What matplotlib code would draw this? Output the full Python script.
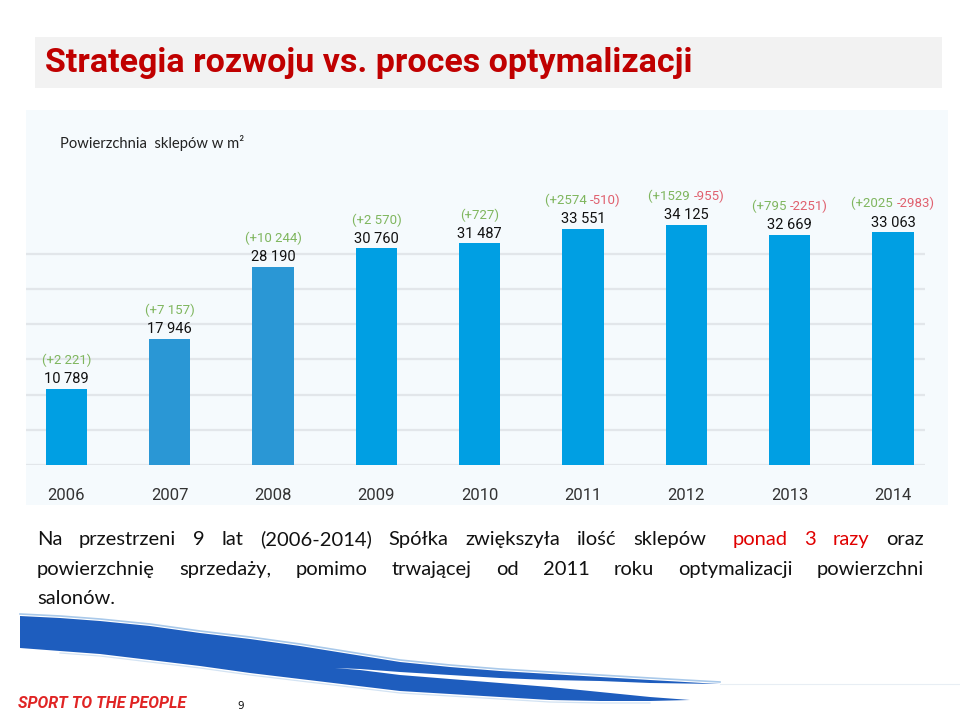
import matplotlib
matplotlib.use("Agg")
import matplotlib.pyplot as plt
from matplotlib import font_manager
from matplotlib.patches import Rectangle, Polygon
from matplotlib.offsetbox import TextArea, HPacker, AnnotationBbox


# -------------------------------------------------------
# DATA
# -------------------------------------------------------

years = ["2006", "2007", "2008", "2009", "2010", "2011", "2012", "2013", "2014"]
area_m2 = [10789, 17946, 28190, 30760, 31487, 33551, 34125, 32669, 33063]
opened = ["+2 221", "+7 157", "+10 244", "+2 570", "+727",
          "+2574", "+1529", "+795", "+2025"]
closed = ["", "", "", "", "", "-510", "-955", "-2251", "-2983"]

grid_levels = [0, 5000, 10000, 15000, 20000, 25000, 30000]

title = "Strategia rozwoju vs. proces optymalizacji"
subtitle = "Powierzchnia  sklepów w m\u00b2"

# body text, (word, red?) per line
body_lines = [
    [("Na", 0), ("przestrzeni", 0), ("9", 0), ("lat", 0), ("(2006-2014)", 0),
     ("Spółka", 0), ("zwiększyła", 0), ("ilość", 0), ("sklepów", 0),
     ("ponad", 1), ("3", 1), ("razy", 1), ("oraz", 0)],
    [("powierzchnię", 0), ("sprzedaży,", 0), ("pomimo", 0), ("trwającej", 0),
     ("od", 0), ("2011", 0), ("roku", 0), ("optymalizacji", 0),
     ("powierzchni", 0)],
    [("salonów.", 0)],
]

BAR_BLUE = "#009FE3"
BAR_MUTED = "#2A97D5"
GREEN = "#7FB65E"
PINK = "#E0606E"
TITLE_RED = "#C00000"


def pick_font(names):
    for n in names:
        try:
            font_manager.findfont(font_manager.FontProperties(family=n),
                                  fallback_to_default=False)
            return n
        except Exception:
            pass
    return "DejaVu Sans"


TITLE_FONT = pick_font(["Liberation Sans Narrow", "Roboto", "Liberation Sans"])
BODY_FONT = pick_font(["Lato", "Open Sans", "Noto Sans"])
CHART_FONT = pick_font(["Roboto", "Noto Sans"])


def fit_width(txt, target_px, renderer):
    w = txt.get_window_extent(renderer).width
    txt.set_fontsize(txt.get_fontsize() * target_px / w)


def justify(bg, renderer, words, y, x0, x1, size, last=False):
    texts = []
    for w, red in words:
        t = bg.text(0, y, w, fontsize=size, family=BODY_FONT,
                    color="#E00000" if red else "#111111", va="baseline")
        texts.append(t)
    widths = [t.get_window_extent(renderer).width for t in texts]
    weights = []
    for k in range(1, len(words)):
        # extra room before the red phrase
        weights.append(1.6 if words[k][1] and not words[k - 1][1] else 1.0)
    if last or len(words) == 1:
        gap = size * 0.3
        weights = [1.0] * len(weights)
    else:
        gap = (x1 - x0 - sum(widths)) / sum(weights)
    x = x0
    for k, t in enumerate(texts):
        t.set_x(x)
        x += widths[k]
        if k < len(weights):
            x += gap * weights[k]


def draw_footer(bg):
    # blue swoosh (decoration, pixel coords)
    top = [(20, 616), (60, 618), (100, 621), (150, 626), (200, 633),
           (250, 639), (300, 646), (350, 654), (400, 662), (450, 667),
           (500, 671), (550, 674), (600, 677), (650, 680), (720, 684)]
    upper_back = [(650, 683), (600, 681), (550, 680), (500, 678), (450, 675),
                  (400, 672), (360, 669), (335, 668)]
    lower_top = [(360, 670), (400, 675), (450, 679), (500, 683), (550, 687),
                 (600, 692), (650, 697), (690, 700)]
    bottom = [(650, 701), (600, 701), (550, 700), (500, 697), (450, 694),
              (400, 691), (350, 685), (300, 679), (250, 673), (200, 666),
              (150, 660), (100, 654), (60, 651), (20, 648)]
    pts = top + upper_back + lower_top + bottom
    bg.add_patch(Polygon(pts, closed=True, facecolor="#1E5DBE",
                         edgecolor="none", zorder=2))
    bg.plot([p[0] for p in top], [p[1] - 2 for p in top], color="#A9C9EA",
            lw=1.2, zorder=1)
    bg.plot([p[0] for p in bottom[:-1]], [p[1] + 2 for p in bottom[:-1]],
            color="#D3E3F3", lw=0.9, zorder=1)
    bg.plot([720, 960], [684, 684], color="#E8EEF4", lw=0.8, zorder=1)
    bg.text(18, 704, "SPORT TO THE PEOPLE", color="#E02424", fontsize=11.5,
            family=TITLE_FONT, fontweight="bold", fontstyle="italic",
            va="center", ha="left")
    bg.text(237, 706, "9", color="#111111", fontsize=7.5, family="DejaVu Sans",
            va="center", ha="left")


def main():
    fig = plt.figure(figsize=(9.6, 7.26), dpi=100)
    fig.patch.set_facecolor("white")

    # background layer in pixel coordinates
    bg = fig.add_axes([0, 0, 1, 1], zorder=0)
    bg.set_xlim(0, 960)
    bg.set_ylim(726, 0)
    bg.axis("off")

    bg.add_patch(Rectangle((35, 37), 907, 51, facecolor="#F2F2F2",
                           edgecolor="none"))
    bg.add_patch(Rectangle((26, 110), 922, 395, facecolor="#F5FAFD",
                           edgecolor="none"))

    renderer = fig.canvas.get_renderer()

    t = bg.text(45, 63, title, color=TITLE_RED, fontsize=26,
                family=TITLE_FONT, fontweight="bold", va="center", ha="left")
    fit_width(t, 648, renderer)

    bg.text(60, 143, subtitle, color="#222222", fontsize=10.6,
            family=BODY_FONT, va="center", ha="left")

    # chart axes: baseline at y=465 px, top at y=110 px
    ax = fig.add_axes([26 / 960, (726 - 465) / 726, 922 / 960, 355 / 726],
                      zorder=1)
    ax.patch.set_alpha(0)
    ax.set_xlim(-0.392, 8.533)
    ax.set_ylim(0, 355 / 0.00704)

    xs = list(range(len(years)))
    ax.hlines(grid_levels, -0.392, 8.31, color="#E2E6EA", lw=1.6, zorder=1)

    colors = [BAR_MUTED if y in ("2007", "2008") else BAR_BLUE for y in years]
    ax.bar(xs, area_m2, width=0.4, color=colors, zorder=2)

    for i, v in enumerate(area_m2):
        ax.annotate(f"{v:,}".replace(",", " "), (i, v), xytext=(0, 7),
                    textcoords="offset points", ha="center", va="center",
                    fontsize=10.5, family=CHART_FONT, color="#111111")
        parts = [TextArea("(" + opened[i] + (" " if closed[i] else ")"),
                          textprops=dict(color=GREEN, fontsize=9.5,
                                         family=CHART_FONT))]
        if closed[i]:
            parts.append(TextArea(closed[i] + ")",
                                  textprops=dict(color=PINK, fontsize=9.5,
                                                 family=CHART_FONT)))
        box = HPacker(children=parts, pad=0, sep=0, align="baseline")
        ab = AnnotationBbox(box, (i, v), xybox=(0, 20.5),
                            boxcoords="offset points", frameon=False,
                            box_alignment=(0.5, 0.5), pad=0)
        ax.add_artist(ab)

    ax.set_xticks(xs)
    ax.set_xticklabels(years, fontsize=12, family=CHART_FONT, color="#333333")
    ax.tick_params(axis="x", length=0, pad=16.5)
    ax.set_yticks([])
    for s in ax.spines.values():
        s.set_visible(False)

    # body text, justified between x=37 and x=924
    baselines = [545, 575, 604]
    for k, words in enumerate(body_lines):
        justify(bg, renderer, words, baselines[k], 37, 924, 14.5,
                last=(k == len(body_lines) - 1))

    draw_footer(bg)

    fig.savefig("out.png", dpi=100)
    plt.close(fig)


if __name__ == "__main__":
    main()
